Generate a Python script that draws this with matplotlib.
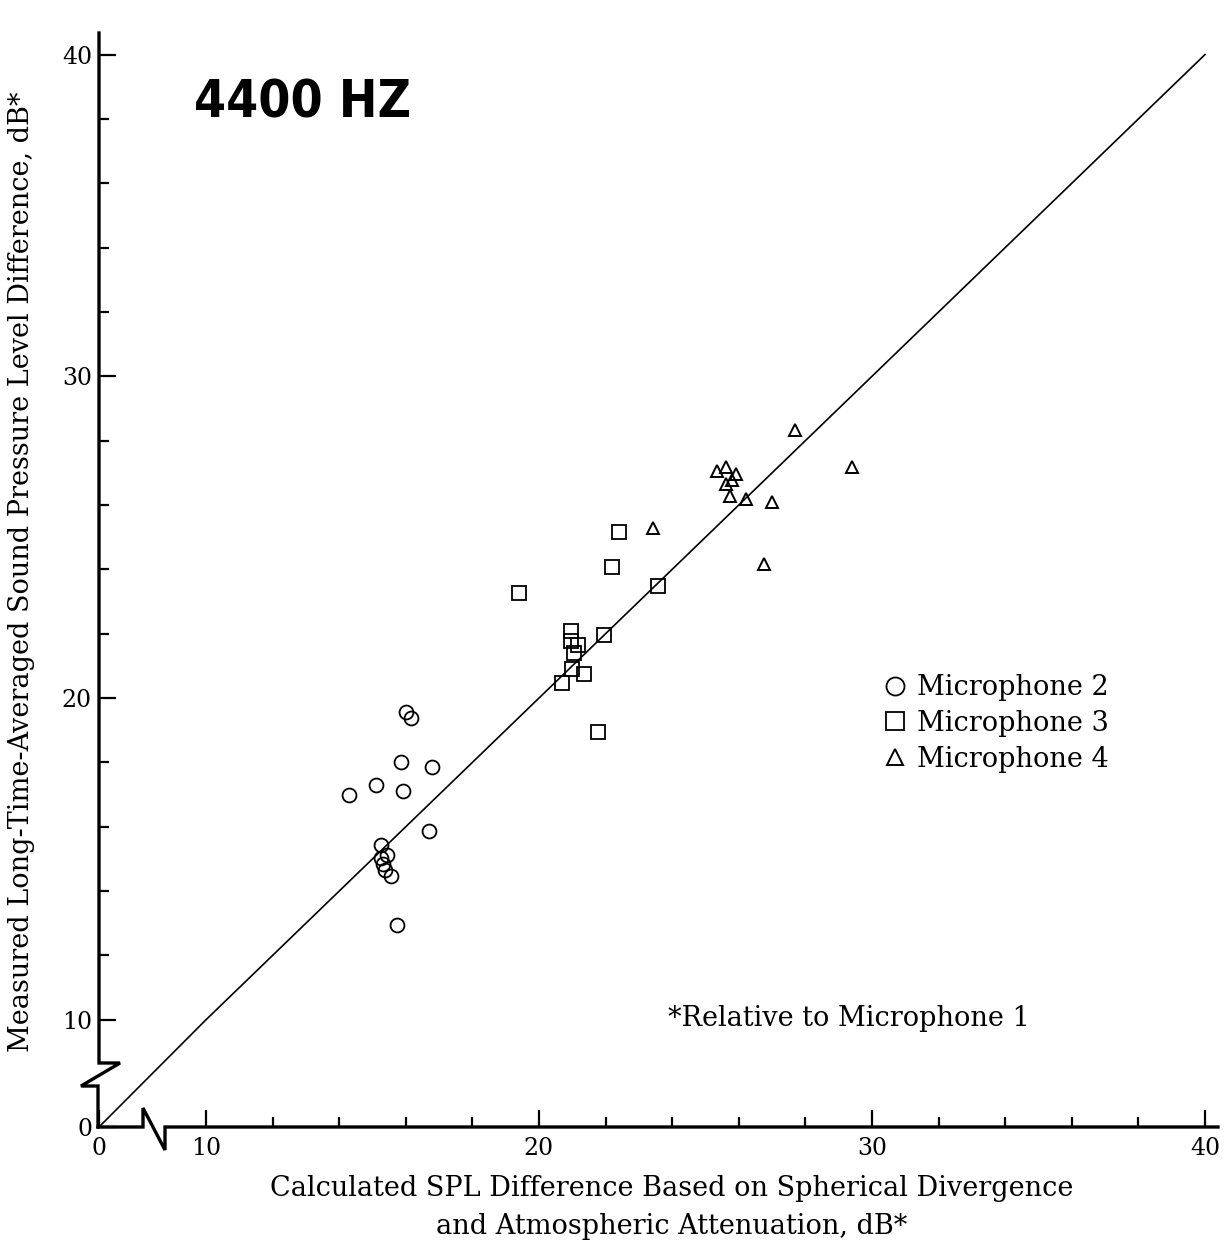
import numpy as np
import matplotlib
matplotlib.use("Agg")
import matplotlib.pyplot as plt
from matplotlib.lines import Line2D

# ---------------- data ----------------
mic2_x = [16.00, 16.17, 15.86, 16.80, 15.10, 14.30, 15.92, 16.70, 15.26, 15.44, 15.26, 15.32, 15.38, 15.56, 15.74]
mic2_y = [19.58, 19.37, 18.01, 17.87, 17.30, 16.98, 17.10, 15.87, 15.42, 15.11, 15.04, 14.85, 14.66, 14.48, 12.95]

mic3_x = [22.40, 22.20, 19.40, 23.58, 20.96, 20.96, 21.16, 21.06, 21.95, 21.00, 21.36, 20.70, 21.76]
mic3_y = [25.16, 24.06, 23.26, 23.47, 22.07, 21.76, 21.66, 21.40, 21.97, 20.90, 20.76, 20.47, 18.94]

mic4_x = [27.68, 29.39, 25.35, 25.62, 25.91, 25.79, 25.62, 25.74, 26.21, 27.01, 23.42, 26.75]
mic4_y = [28.34, 27.17, 27.07, 27.17, 26.96, 26.79, 26.66, 26.27, 26.19, 26.09, 25.28, 24.17]

line_x = [0, 10, 40]
line_y = [0, 10, 40]

x_major = [0, 10, 20, 30, 40]
y_major = [0, 10, 20, 30, 40]
x_minor = [12, 14, 16, 18, 22, 24, 26, 28, 32, 34, 36, 38]
y_minor = [12, 14, 16, 18, 22, 24, 26, 28, 32, 34, 36, 38]

labels = ["Microphone 2", "Microphone 3", "Microphone 4"]

# ---------------- figure ----------------
W, H = 1232, 1248
fig = plt.figure(figsize=(W / 100, H / 100), dpi=100)

def fx(px):
    return px / W

def fy(py):
    return 1 - py / H

x0, y0 = 99, 1127          # origin in pixels
x1, y1 = 1218, 33          # right/top edge
ax = fig.add_axes([fx(x0), fy(y0), fx(x1) - fx(x0), fy(y1) - fy(y0)])

kx, ky = 0.321, 0.333

def make_fwd(k):
    def f(v):
        v = np.asarray(v, dtype=float)
        return np.where(v < 10, v * k, 10 * k + (v - 10))
    return f

def make_inv(k):
    def f(u):
        u = np.asarray(u, dtype=float)
        return np.where(u < 10 * k, u / k, u - 10 * k + 10)
    return f

ax.set_xscale('function', functions=(make_fwd(kx), make_inv(kx)))
ax.set_yscale('function', functions=(make_fwd(ky), make_inv(ky)))

ax.set_xlim(0, 40.39)
ax.set_ylim(0, 40.67)

serif = ['DejaVu Serif']
fs_lab = 19.5

ax.plot(line_x, line_y, color='black', lw=1.2, clip_on=False, zorder=2)

ax.plot(mic2_x, mic2_y, 'o', ms=10, mfc='none', mec='black', mew=1.3, ls='none', label=labels[0])
ax.plot(mic3_x, mic3_y, 's', ms=9.5, mfc='none', mec='black', mew=1.3, ls='none', label=labels[1])
ax.plot(mic4_x, mic4_y, '^', ms=8.4, mfc='none', mec='black', mew=1.4, ls='none', label=labels[2])

# ticks
ax.set_xticks(x_major)
ax.set_xticks(x_minor, minor=True)
ax.set_yticks(y_major)
ax.set_yticks(y_minor, minor=True)
ax.set_xticklabels([str(v) for v in x_major], family=serif, fontsize=17)
ax.set_yticklabels([str(v) for v in y_major], family=serif, fontsize=17)
ax.tick_params(axis='both', which='major', direction='in', length=12, width=1.6, pad=7)
ax.tick_params(axis='both', which='minor', direction='in', length=7, width=1.6)
ax.tick_params(axis='y', which='major', pad=5)

for s in ax.spines.values():
    s.set_visible(False)

# axis lines with break marks (figure pixel coords)
yax = [(99, 33), (99, 1063), (120, 1063), (81, 1086), (98, 1086), (98, 1127)]
xax = [(98, 1127), (143, 1127), (143, 1108), (165, 1150), (165, 1127), (1218, 1127)]
for pts in (yax, xax):
    fig.add_artist(Line2D([fx(p[0]) for p in pts], [fy(p[1]) for p in pts],
                          color='black', lw=2.4, transform=fig.transFigure,
                          solid_joinstyle='miter'))

# title
fig.text(fx(194), fy(117), "4400 HZ", family=['DejaVu Sans'], fontstretch='condensed',
         fontweight='bold', fontsize=37, ha='left', va='baseline')

# legend
leg = ax.legend(loc='upper left', bbox_to_anchor=(fx(886), fy(674)), bbox_transform=fig.transFigure,
                frameon=False, handlelength=0.7, handletextpad=0.45, labelspacing=0.33,
                markerscale=1.3,
                prop={'family': 'DejaVu Serif', 'size': fs_lab}, borderpad=0, borderaxespad=0)

# footnote
fig.text(fx(668), fy(1018), "*Relative to Microphone 1", family=serif, fontsize=fs_lab,
         ha='left', va='center')

# axis labels
fig.text(fx(672), fy(1189), "Calculated SPL Difference Based on Spherical Divergence",
         family=serif, fontsize=fs_lab, ha='center', va='center')
fig.text(fx(672), fy(1227), "and Atmospheric Attenuation, dB*",
         family=serif, fontsize=fs_lab, ha='center', va='center')
fig.text(fx(22), fy(572), "Measured Long-Time-Averaged Sound Pressure Level Difference, dB*",
         family=serif, fontsize=fs_lab, ha='center', va='center', rotation=90)

fig.savefig("out.png", dpi=100)
